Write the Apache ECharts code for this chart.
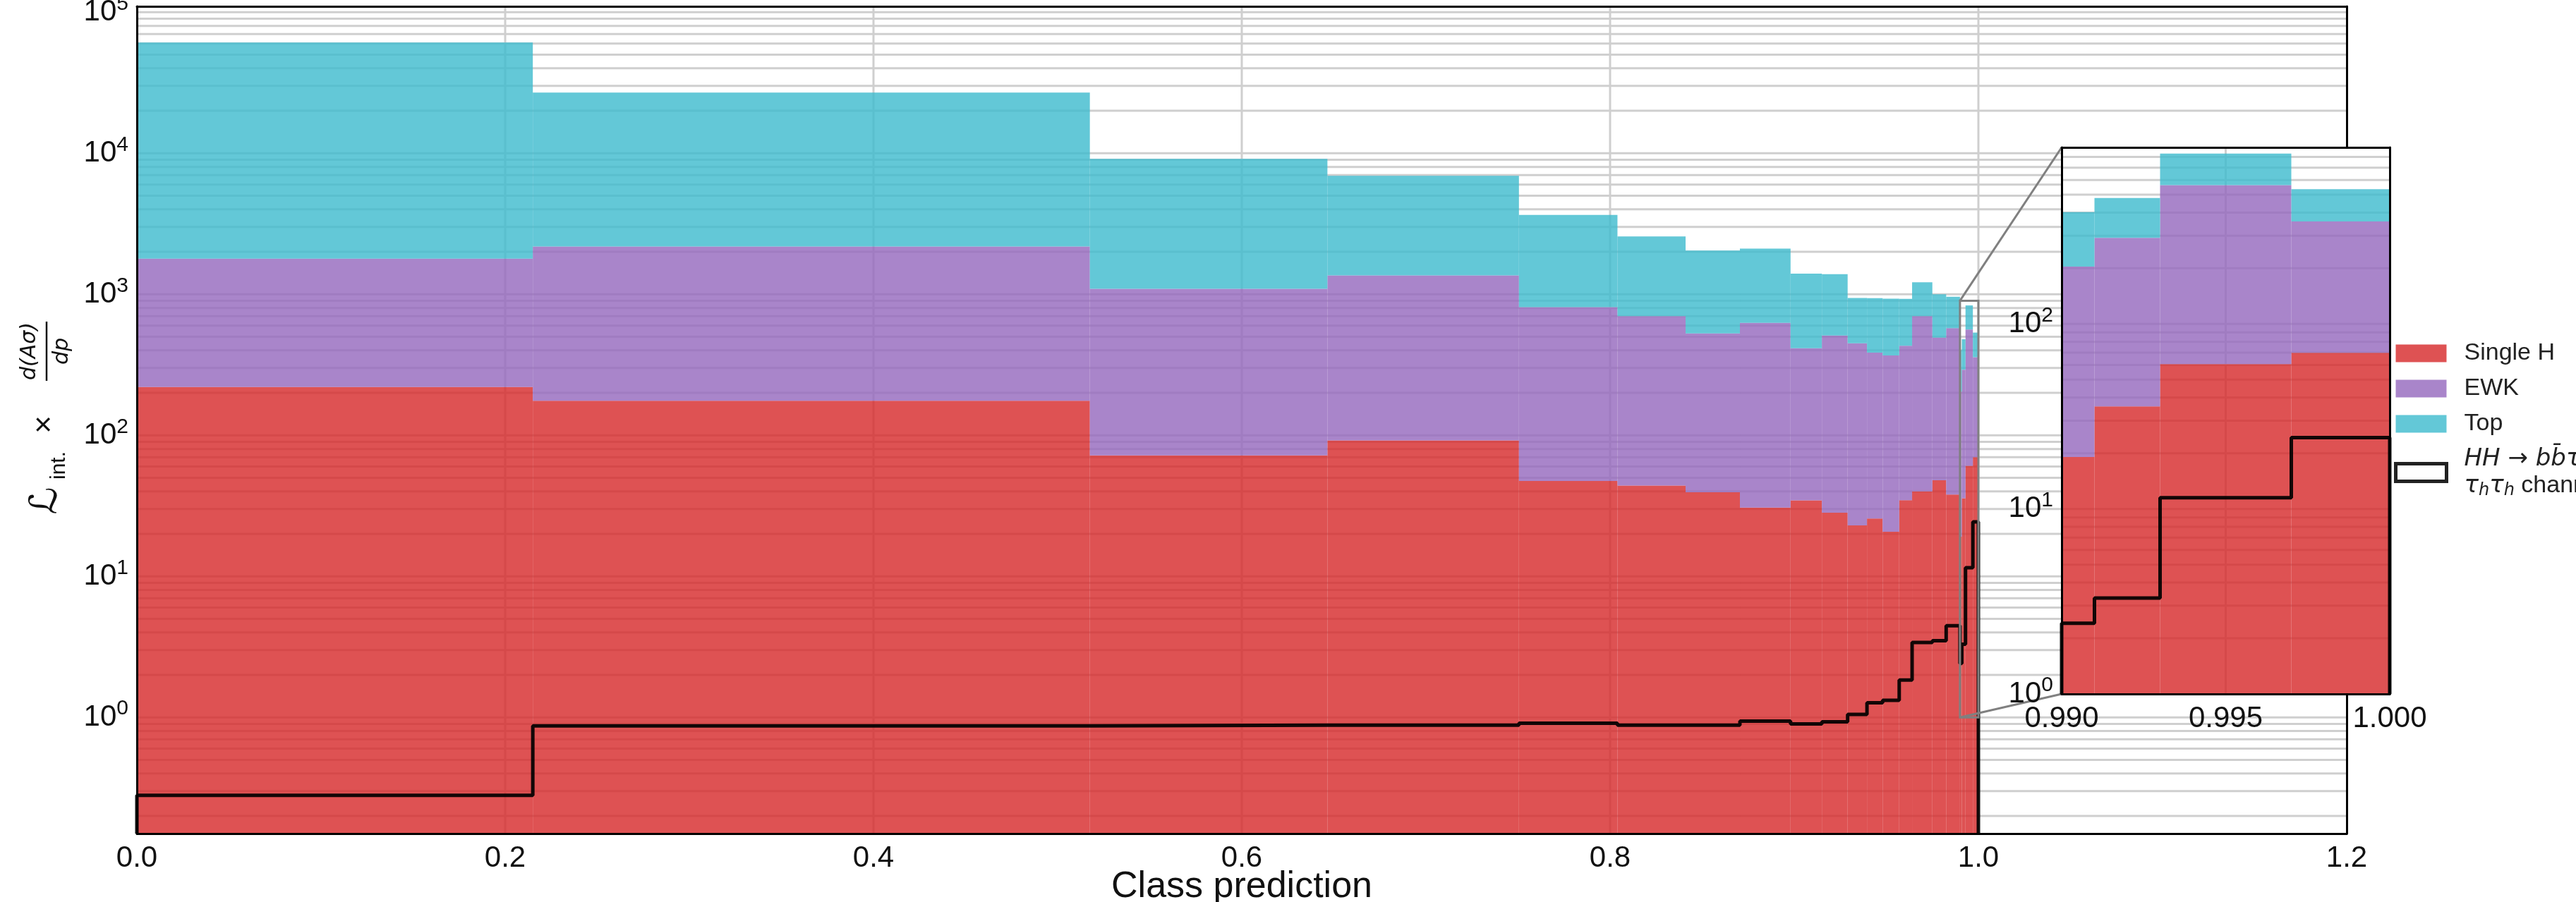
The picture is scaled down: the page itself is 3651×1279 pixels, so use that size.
<!DOCTYPE html>
<html>
<head>
<meta charset="utf-8">
<script src="https://cdn.jsdelivr.net/npm/echarts@6/dist/echarts.min.js"></script>
<style>
  html, body { margin: 0; padding: 0; background: #ffffff; }
  #chart { width: 3651px; height: 1279px; }
</style>
</head>
<body>
<div id="chart"></div>
<script>
// ---- histogram data: classifier output (class prediction) ----
// bin edges (variable width, finer towards 1.0)
const binEdges = [0, 0.215, 0.5175, 0.6465, 0.7505, 0.804, 0.841, 0.8705, 0.898, 0.915,
  0.929, 0.9395, 0.948, 0.957, 0.964, 0.975, 0.9825, 0.990, 0.991, 0.993, 0.997, 1.000];

// per-process yields per bin (stacked in the order Single H, EWK, Top)
const singleH = [220, 176, 72, 92, 47.5, 44, 39.5, 30.7, 34.6, 28.3,
  23, 25.7, 20.7, 34.7, 40, 48, 38, 19.1, 35.8, 60.7, 69.9];
const ewk = [1570, 2004, 1023, 1268, 763, 656, 488, 596, 380, 482,
  426, 360, 348, 397, 660, 444, 537, 185, 256, 502, 288];
const topQuark = [59210, 24720, 8025, 5560, 2839, 1870, 1513, 1483, 985, 880,
  493, 554, 561, 496, 515, 508, 385, 198, 188, 271, 177];

// signal, drawn as an unstacked step outline
const hhSignal = [0.28, 0.87, 0.88, 0.88, 0.91, 0.88, 0.88, 0.94, 0.90, 0.93,
  1.05, 1.27, 1.32, 1.84, 3.4, 3.5, 4.47, 2.41, 3.3, 11.5, 24.3];

const processNames = ['Single H', 'EWK', 'Top'];
const hhName = 'HH signal';

// axis ranges
const mainX = [0, 1.2];
const mainY = [0.15, 1.1e5];
const insetX = [0.990, 1.000];
const insetY = [1, 900];

// x tick positions
const mainXTicks = [0.2, 0.4, 0.6, 0.8, 1.0];
const insetXTicks = [0.995];

// ---- styling ----
const FONT = '"Liberation Sans", Arial, Helvetica, sans-serif';
const MATH = '"DejaVu Sans", sans-serif';
const COLORS = ['#d62728', '#9467bd', '#3cbacd'];
const BAR_OPACITY = 0.8;
const GRID_COLOR = '#cfcfcf';
const TEXT = '#111111';
const TICK_SIZE = 42;
const LEG_SIZE = 34;

// log grid lines: 1..9 x 10^k inside an extent
function logGridValues(lo, hi) {
  const out = [];
  for (let k = Math.floor(Math.log10(lo)); k <= Math.ceil(Math.log10(hi)); k++) {
    for (let m = 1; m <= 9; m++) {
      const v = m * Math.pow(10, k);
      if (v > lo * 1.0001 && v < hi * 0.9999) out.push(v);
    }
  }
  return out;
}

// stacked levels per bin
const nBins = binEdges.length - 1;
const levels = [];
for (let i = 0; i < nBins; i++) {
  const a = singleH[i];
  const b = a + ewk[i];
  const c = b + topQuark[i];
  levels.push([a, b, c]);
}

function stackData(procIdx, base, xFrom) {
  const rows = [];
  for (let i = 0; i < nBins; i++) {
    if (binEdges[i] < xFrom - 1e-9) continue;
    const lo = procIdx === 0 ? base : levels[i][procIdx - 1];
    rows.push([binEdges[i], binEdges[i + 1], lo, levels[i][procIdx]]);
  }
  return rows;
}

function stepData(base, xFrom) {
  const pts = [];
  let first = true;
  for (let i = 0; i < nBins; i++) {
    if (binEdges[i] < xFrom - 1e-9) continue;
    if (first) { pts.push([binEdges[i], base]); first = false; }
    pts.push([binEdges[i], hhSignal[i]]);
  }
  pts.push([binEdges[nBins], hhSignal[nBins - 1]]);
  pts.push([binEdges[nBins], base]);
  return pts;
}

function barSeries(procIdx, xi, yi, base, xFrom, z) {
  const color = COLORS[procIdx];
  return {
    type: 'custom', name: processNames[procIdx], xAxisIndex: xi, yAxisIndex: yi, z: z,
    encode: { x: [0, 1], y: [2, 3] },
    itemStyle: { color: color, opacity: BAR_OPACITY },
    data: stackData(procIdx, base, xFrom),
    renderItem: function (params, api) {
      const a = api.coord([api.value(0), api.value(3)]);
      const b = api.coord([api.value(1), api.value(2)]);
      return {
        type: 'rect',
        shape: { x: a[0], y: a[1], width: b[0] - a[0], height: b[1] - a[1] },
        style: { fill: color, opacity: BAR_OPACITY }
      };
    }
  };
}

function hGridSeries(values, xi, yi, xRef, z) {
  return {
    type: 'custom', xAxisIndex: xi, yAxisIndex: yi, z: z, silent: true,
    encode: { y: 0 },
    data: values.map(v => [v]),
    renderItem: function (params, api) {
      const cs = params.coordSys;
      const y = api.coord([xRef, api.value(0)])[1];
      return {
        type: 'line',
        shape: { x1: cs.x, y1: y, x2: cs.x + cs.width, y2: y },
        style: { stroke: GRID_COLOR, lineWidth: 3 }
      };
    }
  };
}

function vGridSeries(values, xi, yi, yRef, z) {
  return {
    type: 'custom', xAxisIndex: xi, yAxisIndex: yi, z: z, silent: true,
    encode: { x: 0 },
    data: values.map(v => [v]),
    renderItem: function (params, api) {
      const cs = params.coordSys;
      const x = api.coord([api.value(0), yRef])[0];
      return {
        type: 'line',
        shape: { x1: x, y1: cs.y, x2: x, y2: cs.y + cs.height },
        style: { stroke: GRID_COLOR, lineWidth: 3 }
      };
    }
  };
}

function hhSeries(xi, yi, base, xFrom, z) {
  return {
    type: 'line', name: hhName, xAxisIndex: xi, yAxisIndex: yi, z: z,
    step: 'end', symbol: 'none', clip: true,
    lineStyle: { color: '#000000', width: 5, opacity: 0.92 },
    itemStyle: { color: '#000000' },
    data: stepData(base, xFrom)
  };
}

function powLabel(v) {
  const e = Math.log10(v);
  const n = Math.round(e);
  return Math.abs(e - n) < 1e-6 ? '{b|10}{s|' + n + '}' : '';
}

const powRich = {
  b: { fontSize: TICK_SIZE, fontFamily: FONT, color: TEXT },
  s: { fontSize: 30, fontFamily: FONT, color: TEXT, padding: [0, 0, 24, 0] }
};

const spine = { show: true, onZero: false, lineStyle: { color: '#000000', width: 3 } };

const option = {
  animation: false,
  backgroundColor: '#ffffff',
  grid: [
    { left: 194, top: 9, width: 3132, height: 1173, outerBoundsMode: 'none', containLabel: false },
    { left: 2922, top: 209, width: 465, height: 775, outerBoundsMode: 'none', containLabel: false }
  ],
  xAxis: [
    {
      gridIndex: 0, type: 'value', min: mainX[0], max: mainX[1], interval: 0.2, position: 'bottom', z: 6,
      axisLine: spine, axisTick: { show: false }, splitLine: { show: false },
      axisLabel: { fontSize: TICK_SIZE, fontFamily: FONT, color: TEXT, margin: 14, formatter: v => v.toFixed(1) },
      name: 'Class prediction', nameLocation: 'middle', nameGap: 50, nameMoveOverlap: false,
      nameTextStyle: { fontSize: 52, fontFamily: FONT, color: TEXT }
    },
    {
      gridIndex: 0, type: 'value', min: mainX[0], max: mainX[1], position: 'top', z: 6,
      axisLine: spine, axisTick: { show: false }, splitLine: { show: false }, axisLabel: { show: false }
    },
    {
      gridIndex: 1, type: 'value', min: insetX[0], max: insetX[1], interval: 0.005, position: 'bottom', z: 12,
      axisLine: spine, axisTick: { show: false }, splitLine: { show: false },
      axisLabel: { fontSize: TICK_SIZE, fontFamily: FONT, color: TEXT, margin: 14, formatter: v => v.toFixed(3) }
    },
    {
      gridIndex: 1, type: 'value', min: insetX[0], max: insetX[1], position: 'top', z: 12,
      axisLine: spine, axisTick: { show: false }, splitLine: { show: false }, axisLabel: { show: false }
    }
  ],
  yAxis: [
    {
      gridIndex: 0, type: 'log', logBase: 10, min: mainY[0], max: mainY[1], position: 'left', z: 6,
      axisLine: spine, axisTick: { show: false }, splitLine: { show: false },
      axisLabel: { margin: 12, formatter: powLabel, rich: powRich, showMinLabel: false, showMaxLabel: false }
    },
    {
      gridIndex: 0, type: 'value', min: 0, max: 1, position: 'right', z: 2,
      axisLine: spine, axisTick: { show: false }, splitLine: { show: false }, axisLabel: { show: false }
    },
    {
      gridIndex: 1, type: 'log', logBase: 10, min: insetY[0], max: insetY[1], splitNumber: 3, position: 'left', z: 12,
      axisLine: spine, axisTick: { show: false }, splitLine: { show: false },
      axisLabel: { margin: 12, formatter: powLabel, rich: powRich, showMaxLabel: false }
    },
    {
      gridIndex: 1, type: 'value', min: 0, max: 1, position: 'right', z: 12,
      axisLine: spine, axisTick: { show: false }, splitLine: { show: false }, axisLabel: { show: false }
    }
  ],
  legend: {
    orient: 'vertical', left: 3393, top: 482, padding: 0,
    itemWidth: 72, itemHeight: 25, itemGap: 12, selectedMode: false,
    textStyle: {
      fontSize: LEG_SIZE, fontFamily: FONT, color: '#222222', padding: [0, 0, 0, 20], lineHeight: 38,
      rich: {
        i: { fontSize: LEG_SIZE, fontFamily: MATH, fontStyle: 'italic', color: '#222222', lineHeight: 38 },
        r: { fontSize: LEG_SIZE, fontFamily: FONT, color: '#222222', lineHeight: 38 },
        a: { fontSize: LEG_SIZE, fontFamily: MATH, color: '#222222', lineHeight: 38 },
        sub: { fontSize: 24, fontFamily: MATH, fontStyle: 'italic', color: '#222222', padding: [14, 0, 0, 0], lineHeight: 38 }
      }
    },
    formatter: function (name) {
      if (name === hhName) {
        return '{i|HH}{a| → }{i|bb\u0304ττ}\n{i|τ}{sub|h}{i|τ}{sub|h}{r| channel}';
      }
      return name;
    },
    data: [
      { name: processNames[0], icon: 'rect', itemStyle: { color: COLORS[0], opacity: BAR_OPACITY } },
      { name: processNames[1], icon: 'rect', itemStyle: { color: COLORS[1], opacity: BAR_OPACITY } },
      { name: processNames[2], icon: 'rect', itemStyle: { color: COLORS[2], opacity: BAR_OPACITY } },
      { name: hhName, icon: 'rect', itemStyle: { color: '#ffffff', borderColor: '#222222', borderWidth: 5 } }
    ]
  },
  series: [
    // main panel
    hGridSeries(logGridValues(mainY[0], mainY[1]), 0, 0, mainX[0], 1),
    vGridSeries(mainXTicks, 0, 0, 1, 1),
    barSeries(0, 0, 0, mainY[0], mainX[0], 3),
    barSeries(1, 0, 0, mainY[0], mainX[0], 3),
    barSeries(2, 0, 0, mainY[0], mainX[0], 3),
    hhSeries(0, 0, mainY[0], mainX[0], 4),
    {
      // outline of the zoomed region
      type: 'custom', xAxisIndex: 0, yAxisIndex: 0, z: 5, silent: true,
      encode: { x: [0, 1], y: [2, 3] },
      data: [[insetX[0], insetX[1], insetY[0], insetY[1]]],
      renderItem: function (params, api) {
        const a = api.coord([api.value(0), api.value(3)]);
        const b = api.coord([api.value(1), api.value(2)]);
        return {
          type: 'rect',
          shape: { x: a[0], y: a[1], width: b[0] - a[0], height: b[1] - a[1] },
          style: { fill: 'none', stroke: '#808080', lineWidth: 3 }
        };
      }
    },
    // inset panel
    {
      type: 'custom', xAxisIndex: 2, yAxisIndex: 2, z: 8, silent: true,
      encode: { x: 0, y: 1 },
      data: [[insetX[0], insetY[0]]],
      renderItem: function (params) {
        const cs = params.coordSys;
        return { type: 'rect', shape: { x: cs.x, y: cs.y, width: cs.width, height: cs.height }, style: { fill: '#ffffff' } };
      }
    },
    hGridSeries(logGridValues(insetY[0], insetY[1]), 2, 2, insetX[0], 9),
    vGridSeries(insetXTicks, 2, 2, insetY[0], 9),
    barSeries(0, 2, 2, insetY[0], insetX[0], 10),
    barSeries(1, 2, 2, insetY[0], insetX[0], 10),
    barSeries(2, 2, 2, insetY[0], insetX[0], 10),
    hhSeries(2, 2, insetY[0], insetX[0], 11)
  ]
};

const chart = echarts.init(document.getElementById('chart'), null, { renderer: 'canvas' });
chart.setOption(option);

// connector lines between the zoom outline and the inset, plus the y-axis title
const mainFinder = { xAxisIndex: 0, yAxisIndex: 0 };
const insetFinder = { xAxisIndex: 2, yAxisIndex: 2 };
const zTop = chart.convertToPixel(mainFinder, [insetX[0], insetY[1]]);
const zBot = chart.convertToPixel(mainFinder, [insetX[0], insetY[0]]);
const iTop = chart.convertToPixel(insetFinder, [insetX[0], insetY[1]]);
const iBot = chart.convertToPixel(insetFinder, [insetX[0], insetY[0]]);

function titleText(str, x, y, font) {
  return {
    type: 'text', x: x, y: y,
    style: { text: str, font: font, fill: TEXT, align: 'center', verticalAlign: 'middle', textAlign: 'center', textVerticalAlign: 'middle' }
  };
}

chart.setOption({
  graphic: [
    {
      type: 'line', id: 'linkTop', z: 7, silent: true,
      shape: { x1: zTop[0], y1: zTop[1], x2: iTop[0], y2: iTop[1] },
      style: { stroke: '#808080', lineWidth: 3 }
    },
    {
      type: 'line', id: 'linkBottom', z: 7, silent: true,
      shape: { x1: zBot[0], y1: zBot[1], x2: iBot[0], y2: iBot[1] },
      style: { stroke: '#808080', lineWidth: 3 }
    },
    {
      // y-axis title: L_int. x d(A sigma)/dp, reading bottom to top
      type: 'group', id: 'yTitle', x: 66, y: 598, rotation: Math.PI / 2, z: 13, silent: true,
      children: [
        titleText('ℒ', -112, 0, 'italic 54px ' + MATH),
        titleText('int.', -62, 18, '30px ' + FONT),
        titleText('×', -4, -2, '44px ' + FONT),
        titleText('d(Aσ)', 100, -24, 'italic 30px ' + MATH),
        { type: 'line', shape: { x1: 58, y1: 0, x2: 142, y2: 0 }, style: { stroke: TEXT, lineWidth: 2.5 } },
        titleText('dp', 100, 22, 'italic 30px ' + MATH)
      ]
    }
  ]
});
</script>
</body>
</html>
